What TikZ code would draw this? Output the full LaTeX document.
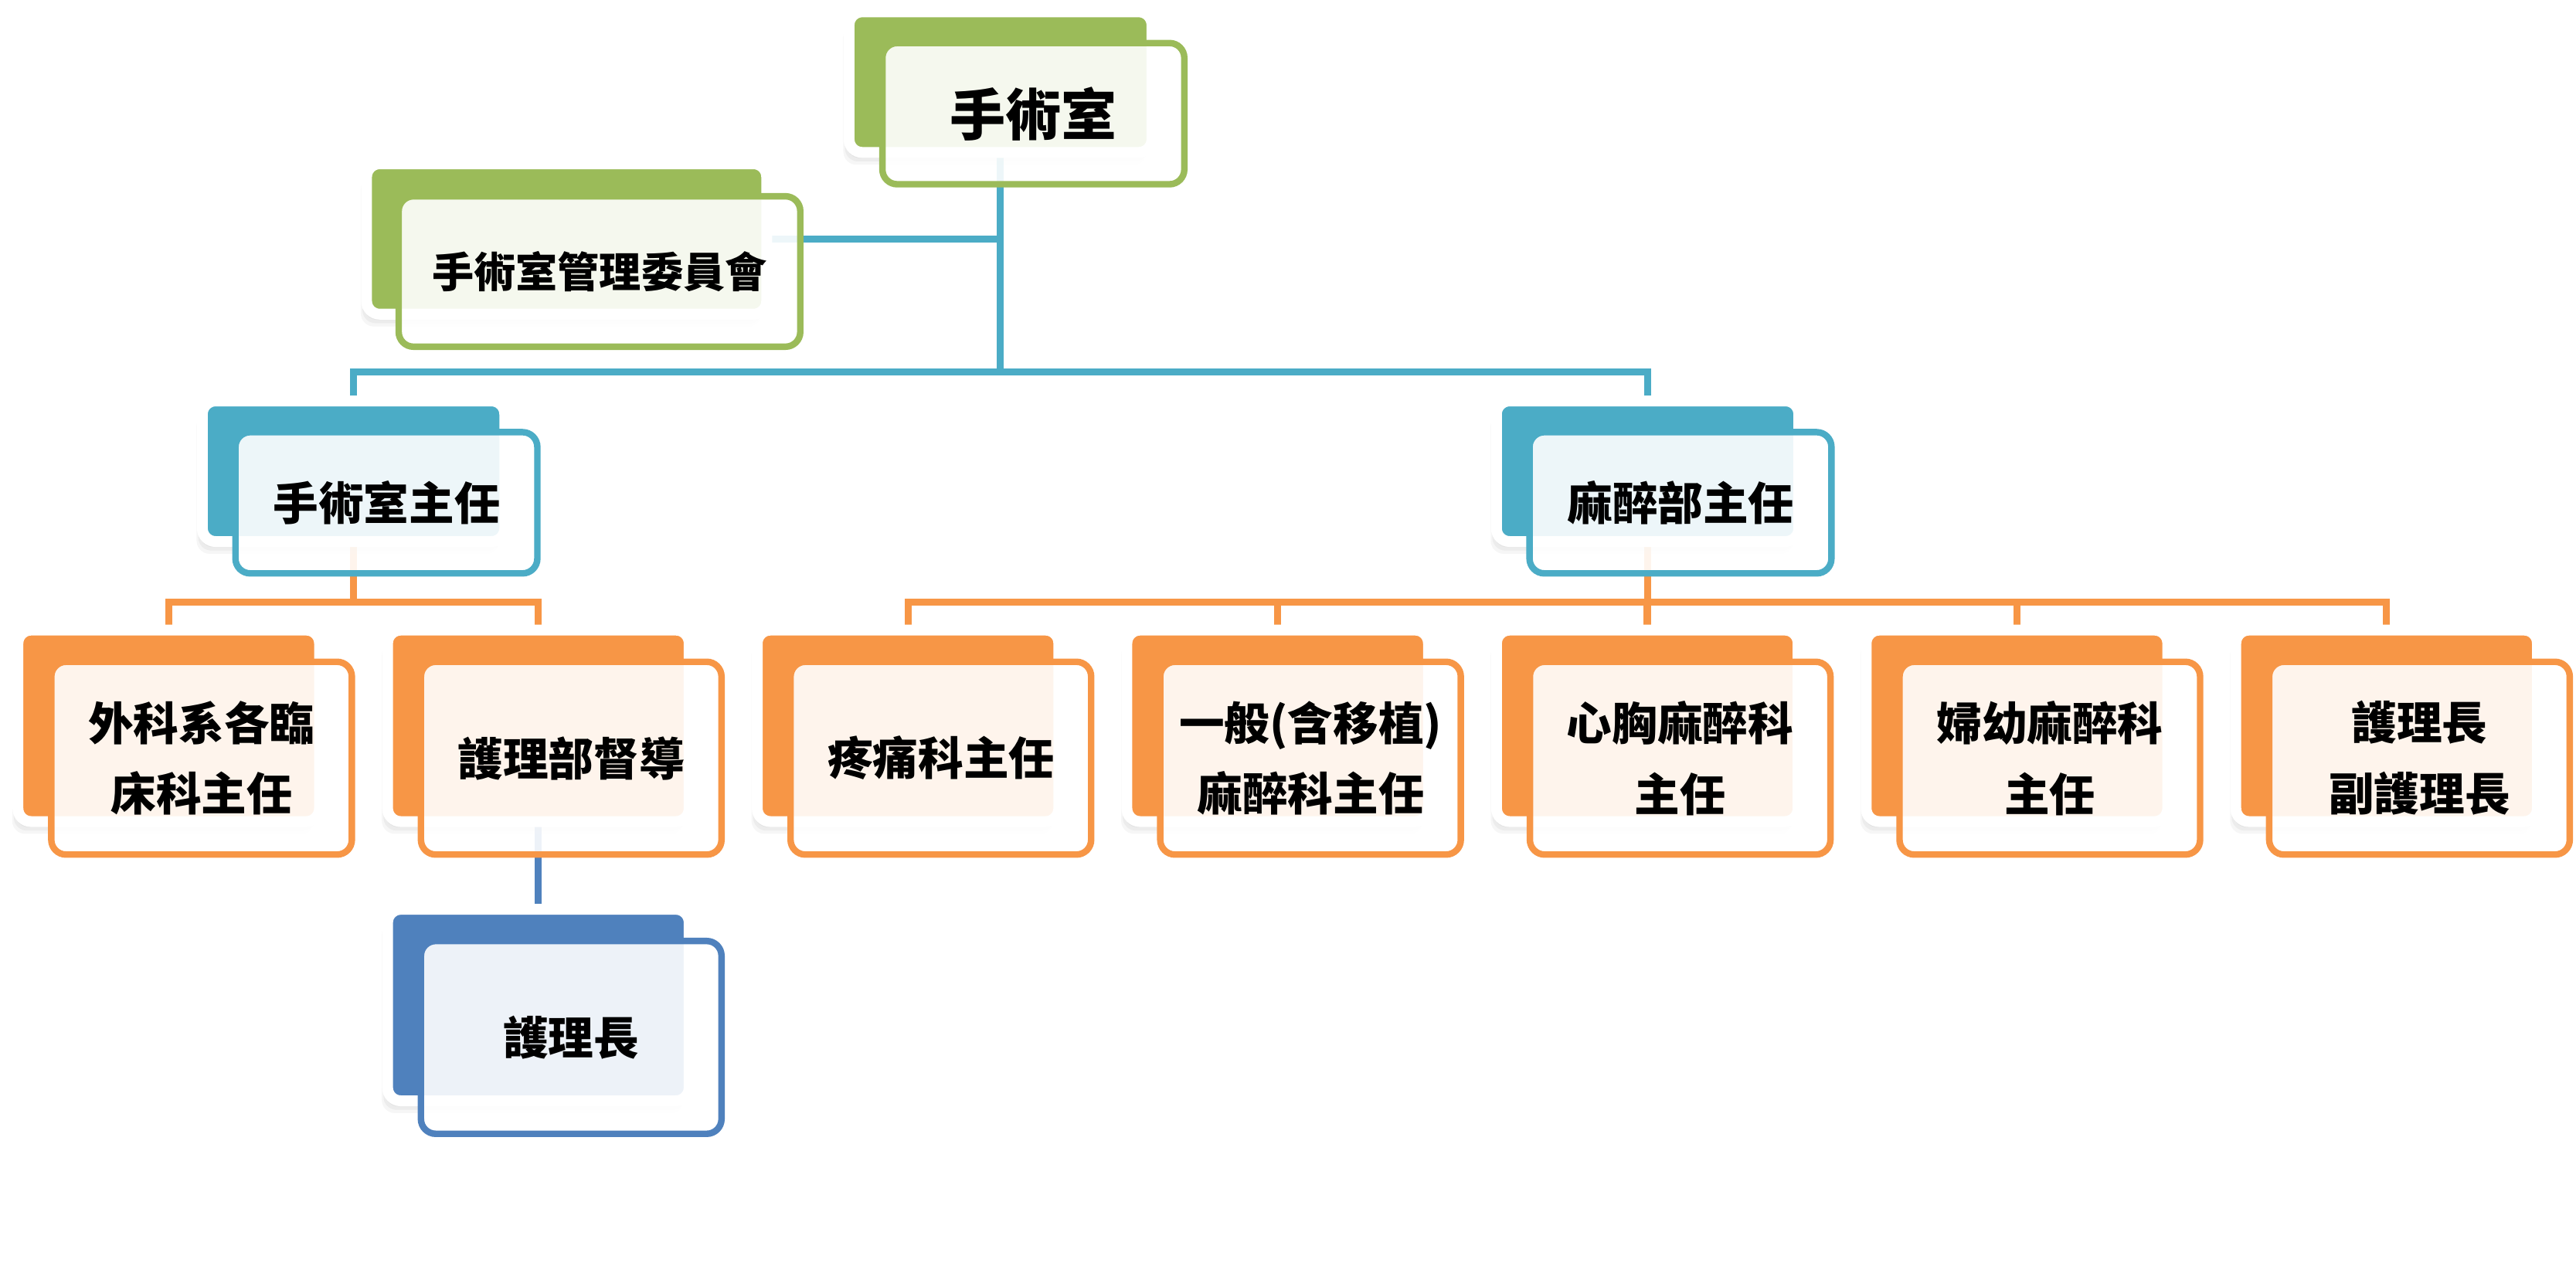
\documentclass[tikz,border=0pt]{standalone}
\usepackage{fontspec}
\setmainfont{Noto Sans CJK TC}
\usetikzlibrary{shadows,backgrounds}

\definecolor{cgreen}{HTML}{9BBB59}
\definecolor{cteal}{HTML}{4BACC6}
\definecolor{corange}{HTML}{F79646}
\definecolor{cblue}{HTML}{4F81BD}

\tikzset{
	softshadow/.style={
		drop shadow={shadow xshift=-0.03cm, shadow yshift=-0.07cm, opacity=0.08},
		drop shadow={shadow xshift=-0.05cm, shadow yshift=-0.11cm, opacity=0.08},
		drop shadow={shadow xshift=-0.07cm, shadow yshift=-0.15cm, opacity=0.07}},
	backbox/.style n args={3}{rectangle, rounded corners=0.16cm, fill=#1, draw=white, line width=0.132cm,
		inner sep=0pt, minimum width=#2, minimum height=#3, softshadow},
	frontbox/.style n args={3}{rectangle, rounded corners=0.18cm, draw=#1, line width=0.079cm,
		fill=white, fill opacity=0.9, text opacity=1, inner sep=0pt, align=center,
		minimum width=#2, minimum height=#3, font=\bfseries\fontsize{15.7}{24.5}\selectfont},
	link/.style={line width=0.086cm, #1}
}

\begin{document}
\begin{tikzpicture}[x=0.02cm,y=-0.02cm]
	\useasboundingbox (0,0) rectangle (1568,768.5);

	% top
	\node[backbox={cgreen}{3.688cm}{1.712cm}] (b-ops) at (609,50) {};
	\node[frontbox={cgreen}{3.676cm}{1.72cm}, font=\bfseries\fontsize{19.3}{24}\selectfont] (f-ops) at ([shift={(20,19.2)}]b-ops.center) {手術室};

	\node[backbox={cgreen}{4.872cm}{1.832cm}] (b-mgmt) at (344.9,145.5) {};
	\node[frontbox={cgreen}{4.89cm}{1.832cm}, font=\bfseries\fontsize{14.5}{20}\selectfont] (f-mgmt) at ([shift={(20,19.8)}]b-mgmt.center) {手術室管理委員會};

	% directors
	\node[backbox={cteal}{3.682cm}{1.712cm}] (b-dir1) at (215.2,286.9) {};
	\node[frontbox={cteal}{3.676cm}{1.72cm}] (f-dir1) at ([shift={(20,19.2)}]b-dir1.center) {手術室主任};

	\node[backbox={cteal}{3.682cm}{1.712cm}] (b-dir2) at (1002.9,286.9) {};
	\node[frontbox={cteal}{3.676cm}{1.72cm}] (f-dir2) at ([shift={(20,19.2)}]b-dir2.center) {麻醉部主任};

	% second row
	\foreach \n/\i/\txt in {surg/0/{外科系各臨\\床科主任}, sup/1/{護理部督導}, pain/2/{疼痛科主任},
		gen/3/{一般(含移植)\\麻醉科主任}, chest/4/{心胸麻醉科\\主任}, obgyn/5/{婦幼麻醉科\\主任},
		head/6/{護理長\\副護理長}} {
		\node[backbox={corange}{3.672cm}{2.332cm}] (b-\n) at (102.7+225*\i,441.9) {};
		\node[frontbox={corange}{3.66cm}{2.348cm}] (f-\n) at ([shift={(20,19.7)}]b-\n.center) {\txt};
	}

	\node[backbox={cblue}{3.672cm}{2.332cm}] (b-nurse) at (327.7,611.9) {};
	\node[frontbox={cblue}{3.66cm}{2.348cm}] (f-nurse) at ([shift={(20,19.7)}]b-nurse.center) {護理長};

	\begin{scope}[on background layer]
		\fill[white] (0,0) rectangle (1568,768.5);
		\coordinate (bus1) at (0,226.5);
		\coordinate (bus2) at (0,366.4);

		\draw[link=cteal] (b-mgmt.center) -| (b-ops.center);
		\draw[link=cteal] (b-ops.center) -- (b-ops.center |- bus1);
		\draw[link=cteal] (b-dir1.center) |- (b-ops.center |- bus1) -| (b-dir2.center);

		\draw[link=corange] (b-dir1.center) -- (b-dir1.center |- bus2);
		\draw[link=corange] (b-surg.center) |- (b-dir1.center |- bus2) -| (b-sup.center);
		\draw[link=corange] (b-dir2.center) -- (b-dir2.center |- bus2);
		\draw[link=corange] (b-pain.center) |- (b-dir2.center |- bus2) -| (b-head.center);
		\foreach \n in {gen,chest,obgyn}
			\draw[link=corange] (b-\n.center) -- (b-\n.center |- bus2);

		\draw[link=cblue] (b-sup.center) -- (b-nurse.center);
	\end{scope}
\end{tikzpicture}
\end{document}
